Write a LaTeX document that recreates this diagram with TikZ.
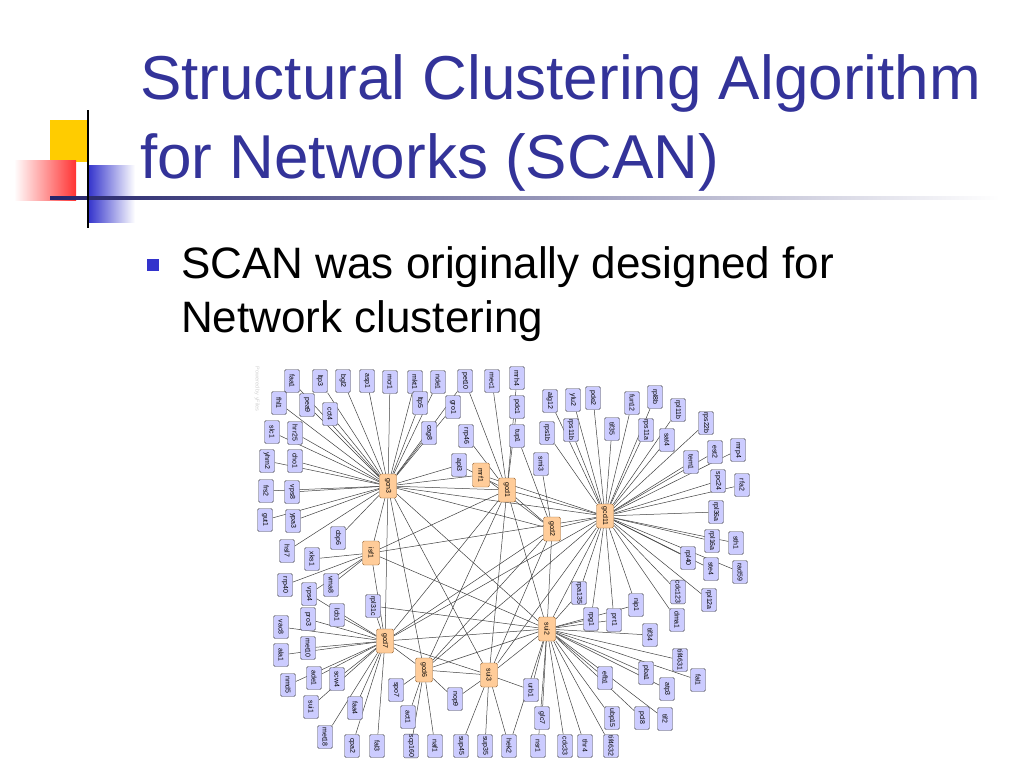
\documentclass[tikz,border=0pt]{standalone}
\usepackage{fontspec}
\setmainfont{Liberation Sans}
\usetikzlibrary{backgrounds}
\definecolor{titleblue}{HTML}{333399}
\definecolor{bulletblue}{HTML}{3333CC}
\definecolor{genefill}{HTML}{CCCCFF}
\definecolor{hubfill}{HTML}{FFCC99}
\definecolor{decoyellow}{HTML}{FFCC00}
\definecolor{decored}{HTML}{FF3333}

\begin{document}
\begin{tikzpicture}[x=1pt, y=-1pt,
    gene/.style={rectangle, rounded corners=1.5pt, draw=black!70, fill=genefill, rotate=-90, minimum width=23pt, minimum height=15pt, inner sep=0.6pt, font=\fontsize{7}{7.5}\selectfont},
    hub/.style={gene, fill=hubfill, draw=brown!80!black, minimum width=24pt, minimum height=17pt},
    edge/.style={draw=black!75, line width=0.5pt},
    titletext/.style={anchor=base west, inner sep=0pt, text=titleblue, font=\fontsize{62}{62}\selectfont},
    bullettext/.style={anchor=base west, inner sep=0pt, font=\fontsize{44}{44}\selectfont}
]
\useasboundingbox (0,0) rectangle (1024,768);

% slide decoration
\fill[decoyellow] (50,120) rectangle (88,162);
\shade[left color=white, right color=decored] (14,160) rectangle (76,200);
\shade[left color=bulletblue, right color=white] (88,165) rectangle (135,222);
\shade[left color=titleblue!70!black, right color=white] (50,196) rectangle (1000,199);
\draw[line width=2pt] (88,110) -- (88,228);

% title and bullet
\node[titletext] (title1) at (140,99) {Structural Clustering Algorithm};
\node[titletext] (title2) at (140,178) {for Networks (SCAN)};
\node[fill=bulletblue, minimum size=12pt, inner sep=0pt] (bullet) at (153,265) {};
\node[bullettext] (line1) at (181,278) {SCAN was originally designed for};
\node[bullettext] (line2) at (181,332) {Network clustering};

\node[rotate=-90, text=black!18, inner sep=0pt, font=\fontsize{5.5}{6}\selectfont] (yfiles) at (257,389) {Powered by yFiles};

% clustered proteins
\foreach \n/\x/\y in {gcn3/388/486, gcd1/507/490, mrf1/481/475, gcd2/552/529, gcd11/605/516,
    isf1/371/553, gcd7/385/641, gcd6/424/670, sui3/489/675, sui2/547/629}
    \node[hub] (\n) at (\x,\y) {\n};

% other proteins
\foreach \n/\x/\y in {faa1/292/381, ltp3/320/381, bgl2/343/381, asp1/367/381, mcr1/390/382,
    mkt1/415/382, nde1/438/382, pet10/465/381, mec1/492/381, mrh4/517/378,
    fhl1/279/403, pea9/307/405, cct4/330/414, slc1/272/432, hrr25/295/433,
    yhm2/267/461, cho1/295/461, frs2/266/491, vps8/292/492, gut1/265/520, ypa3/293/521,
    ltp5/420/403, gro1/453/407, cag8/429/433, rrp46/466/436, apl3/459/465,
    pdc1/517/407, tup1/517/436, alg12/550/401, ylu2/573/400, pde2/593/398,
    rps1b/547/433, rps11b/571/430, smi3/541/464, tif35/612/429, fun12/632/403,
    rpl8b/655/397, rps11a/646/430, rpl11b/678/410, sat4/667/440, rps22b/706/423,
    tem1/691/462, est2/715/452, mrp4/738/450, spc24/718/481, rfa2/742/485,
    rpl36a/716/512, rpl16a/712/541, sth1/736/543, rpl40/688/558, ste4/711/569,
    rad59/740/572, cdc123/678/592, rpl12a/709/600, dma1/677/620, nip1/636/605,
    rpa135/579/593, rpg1/591/619, prt1/614/620, tif34/650/635,
    hsl7/287/551, cbp6/338/538, xks1/312/559, rrp40/285/585, vps4/309/594,
    vma8/331/585, rpl31c/373/606, pro3/308/619, lcb1/337/615, vac8/281/627,
    met10/308/648, ala1/281/655, ade1/314/678, scw4/337/679, nmd5/288/685,
    sui1/311/707, faa4/355/708, met18/325/737, cpa2/352/746, fal3/377/746,
    spo7/396/690, nop9/455/699, act1/408/717, scp160/411/746, naf1/435/746,
    sup45/461/746, sup35/485/746, hek2/509/746, urb1/531/690, glc7/542/718,
    nsr1/538/746, cdc33/565/746, thr4/585/746, tif4632/611/746, ubp15/612/718,
    efb1/605/678, pba1/646/673, tif4631/680/660, fal1/698/680, atp3/667/689,
    tif2/665/719, pcl8/642/718}
    \node[gene] (\n) at (\x,\y) {\n};

% interactions
\begin{scope}[on background layer]
\foreach \h/\l in {
    gcn3/{faa1,ltp3,bgl2,asp1,mcr1,mkt1,nde1,pet10,fhl1,pea9,cct4,slc1,hrr25,yhm2,cho1,frs2,vps8,gut1,ypa3,hsl7,cbp6,ltp5,cag8,gro1,apl3,mrf1},
    gcd1/{mec1,mrh4,pdc1,rrp46,apl3,pet10},
    gcd2/{tup1,smi3,mrf1},
    gcd11/{alg12,ylu2,pde2,rps1b,rps11b,tif35,fun12,rpl8b,rps11a,rpl11b,sat4,rps22b,tem1,est2,mrp4,spc24,rfa2,rpl36a,rpl16a,sth1,rpl40,ste4,rad59,cdc123,rpl12a,dma1,nip1,prt1,rpg1,rpa135,mrf1},
    sui2/{urb1,glc7,nsr1,cdc33,thr4,tif4632,ubp15,efb1,pba1,tif4631,fal1,atp3,tif2,pcl8,tif34,rpg1,prt1,nip1,rpa135,hek2,rpl31c},
    sui3/{sup45,sup35,hek2,nop9,urb1},
    gcd6/{spo7,act1,scp160,naf1,nop9},
    gcd7/{vac8,met10,ala1,ade1,scw4,nmd5,sui1,faa4,met18,cpa2,fal3,pro3,lcb1,rpl31c,vps4},
    isf1/{xks1,rrp40,vma8,vps4,gcn3,gcd7,gcd11,sui2,gcd1}}
    \foreach \p in \l
        \draw[edge] (\h) -- (\p);
\foreach \a/\b in {gcn3/gcd1, gcn3/gcd2, gcn3/gcd11, gcn3/gcd7, gcn3/gcd6, gcn3/sui3, gcn3/sui2,
    gcd1/gcd2, gcd1/gcd11, gcd1/gcd7, gcd1/gcd6, gcd1/sui3, gcd1/sui2,
    gcd2/gcd11, gcd2/gcd7, gcd2/gcd6, gcd2/sui3, gcd2/sui2,
    gcd11/gcd7, gcd11/gcd6, gcd11/sui3, gcd11/sui2,
    gcd7/gcd6, gcd7/sui3, gcd7/sui2, gcd6/sui3, gcd6/sui2, sui3/sui2}
    \draw[edge] (\a) -- (\b);
\end{scope}

\end{tikzpicture}
\end{document}
